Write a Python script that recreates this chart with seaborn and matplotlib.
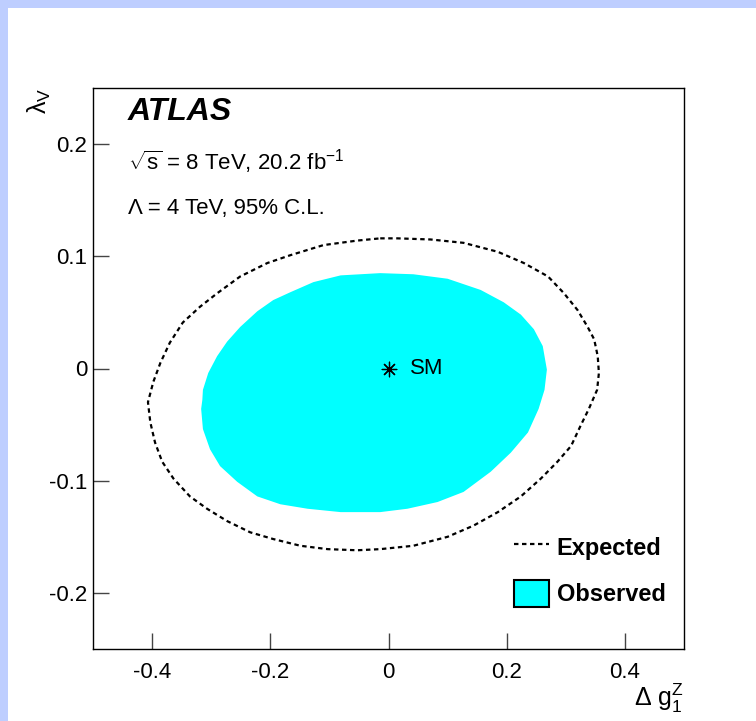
import numpy as np
import pandas as pd
import matplotlib
matplotlib.use("Agg")
import matplotlib.pyplot as plt
from matplotlib.patches import Patch, Rectangle
from matplotlib.lines import Line2D
import seaborn as sns

# 95% C.L. contours in the (Delta g1^Z, lambda_V) plane
obs_dg1z = [-0.014, 0.042, 0.100, 0.156, 0.195, 0.224, 0.246, 0.261, 0.268, 0.264,
            0.254, 0.236, 0.207, 0.173, 0.127, 0.083, 0.032, -0.014, -0.081, -0.137,
            -0.183, -0.222, -0.256, -0.285, -0.302, -0.314, -0.317, -0.315, -0.314, -0.305,
            -0.290, -0.273, -0.251, -0.222, -0.195, -0.166, -0.127, -0.081, -0.014]
obs_lambda = [0.085, 0.084, 0.080, 0.070, 0.059, 0.048, 0.035, 0.020, -0.001, -0.019,
              -0.036, -0.057, -0.075, -0.092, -0.110, -0.119, -0.125, -0.128, -0.128, -0.125,
              -0.121, -0.114, -0.101, -0.087, -0.072, -0.054, -0.036, -0.028, -0.019, -0.004,
              0.011, 0.024, 0.037, 0.051, 0.061, 0.068, 0.077, 0.083, 0.085]

exp_dg1z = [-0.014, 0.015, 0.071, 0.127, 0.185, 0.229, 0.270, 0.297, 0.320, 0.337,
            0.348, 0.354, 0.356, 0.353, 0.339, 0.325, 0.309, 0.286, 0.258, 0.224,
            0.185, 0.144, 0.100, 0.042, -0.014, -0.053, -0.103, -0.149, -0.195, -0.234,
            -0.273, -0.307, -0.336, -0.364, -0.383, -0.395, -0.403, -0.407, -0.398, -0.386,
            -0.370, -0.348, -0.319, -0.290, -0.251, -0.205, -0.166, -0.110, -0.053, -0.014]
exp_lambda = [0.116, 0.116, 0.115, 0.112, 0.104, 0.094, 0.082, 0.067, 0.052, 0.037,
              0.026, 0.011, -0.004, -0.019, -0.036, -0.051, -0.069, -0.083, -0.098, -0.114,
              -0.128, -0.140, -0.150, -0.158, -0.161, -0.162, -0.161, -0.158, -0.152, -0.146,
              -0.136, -0.125, -0.114, -0.098, -0.083, -0.066, -0.048, -0.030, -0.012, 0.005,
              0.023, 0.041, 0.055, 0.067, 0.082, 0.094, 0.101, 0.110, 0.114, 0.116]

sm_point = [0.0, 0.0]

x_ticks = [-0.4, -0.2, 0.0, 0.2, 0.4]
x_tick_labels = ["-0.4", "-0.2", "0", "0.2", "0.4"]
y_ticks = [-0.2, -0.1, 0.0, 0.1, 0.2]
y_tick_labels = ["-0.2", "-0.1", "0", "0.1", "0.2"]

sns.set_style("ticks")
plt.rcParams["font.family"] = ["Liberation Sans", "DejaVu Sans"]
plt.rcParams["mathtext.fontset"] = "custom"
plt.rcParams["mathtext.rm"] = "Liberation Sans"
plt.rcParams["mathtext.it"] = "Liberation Sans:italic"
plt.rcParams["mathtext.bf"] = "Liberation Sans:bold"
for key in ("text.color", "axes.labelcolor", "xtick.color", "ytick.color"):
    plt.rcParams[key] = "black"

W, H = 756, 721
fig = plt.figure(figsize=(W / 100, H / 100), dpi=100)
fig.patch.set_facecolor("white")

# light blue frame strips along the top and left edges
band = "#BECEFF"
fig.patches.append(Rectangle((0, 1 - 8 / H), 1, 8 / H, transform=fig.transFigure,
                             facecolor=band, edgecolor="none", zorder=0))
fig.patches.append(Rectangle((0, 0), 8 / W, 1, transform=fig.transFigure,
                             facecolor=band, edgecolor="none", zorder=0))

ax = fig.add_axes([93 / W, 72 / H, 591 / W, 561 / H])
ax.set_facecolor("white")

# observed region (filled) and expected contour (dashed)
ax.fill(obs_dg1z, obs_lambda, color="#00FFFF", lw=0, zorder=1)
exp_df = pd.DataFrame({"dg1z": exp_dg1z, "lam": exp_lambda})
sns.lineplot(data=exp_df, x="dg1z", y="lam", sort=False, estimator=None, ax=ax,
             color="black", lw=1.6, linestyle=(0, (2, 1.6)), zorder=2)

# Standard Model point
sns.scatterplot(x=[sm_point[0]], y=[sm_point[1]], marker=(8, 2, 0), s=110,
                color="black", linewidth=0.9, ax=ax, zorder=3)
ax.text(0.037, 0.0, "SM", fontsize=16, va="center", ha="left", zorder=3)

ax.set_xlim(-0.5, 0.5)
ax.set_ylim(-0.25, 0.25)
ax.set_xticks(x_ticks)
ax.set_xticklabels(x_tick_labels)
ax.set_yticks(y_ticks)
ax.set_yticklabels(y_tick_labels)
ax.tick_params(axis="both", direction="in", length=11.5, width=1.0, color="#444444",
               labelcolor="black", labelsize=16, top=False, right=False)
ax.tick_params(axis="x", pad=9)
ax.tick_params(axis="y", pad=4)
for sp in ax.spines.values():
    sp.set_visible(True)
    sp.set_color("black")
    sp.set_linewidth(1.0)

ax.set_xlabel(r"$\Delta\ \mathrm{g}^{\mathrm{Z}}_{1}$", fontsize=18)
ax.xaxis.set_label_coords(1.0, -0.058)
ax.xaxis.label.set_ha("right")
ax.xaxis.label.set_va("top")
ax.set_ylabel(r"λ$_{\mathrm{V}}$", fontsize=18, rotation=90)
ax.yaxis.set_label_coords(-0.09, 1.0)
ax.yaxis.label.set_ha("right")
ax.yaxis.label.set_va("center")

# experiment labels
ax.text(0.059, 0.957, "ATLAS", transform=ax.transAxes, fontsize=23,
        fontweight="bold", fontstyle="italic", va="center", ha="left")
ax.text(0.059, 0.868, r"$\sqrt{\mathrm{s}}$ = 8 TeV, 20.2 fb$^{\mathrm{-1}}$",
        transform=ax.transAxes, fontsize=16, va="center", ha="left")
ax.text(0.059, 0.786, "Λ = 4 TeV, 95% C.L.", transform=ax.transAxes,
        fontsize=16, va="center", ha="left")

handles = [Line2D([0], [0], color="black", lw=1.6, linestyle=(0, (2, 1.6))),
           Patch(facecolor="#00FFFF", edgecolor="black", linewidth=1.5)]
leg = ax.legend(handles, ["Expected", "Observed"], loc="lower right",
                bbox_to_anchor=(0.985, 0.058), frameon=False,
                prop={"weight": "bold", "size": 17}, handlelength=1.45,
                handleheight=1.4, handletextpad=0.35, labelspacing=0.82,
                borderaxespad=0.0)

fig.savefig("out.png", dpi=100)
